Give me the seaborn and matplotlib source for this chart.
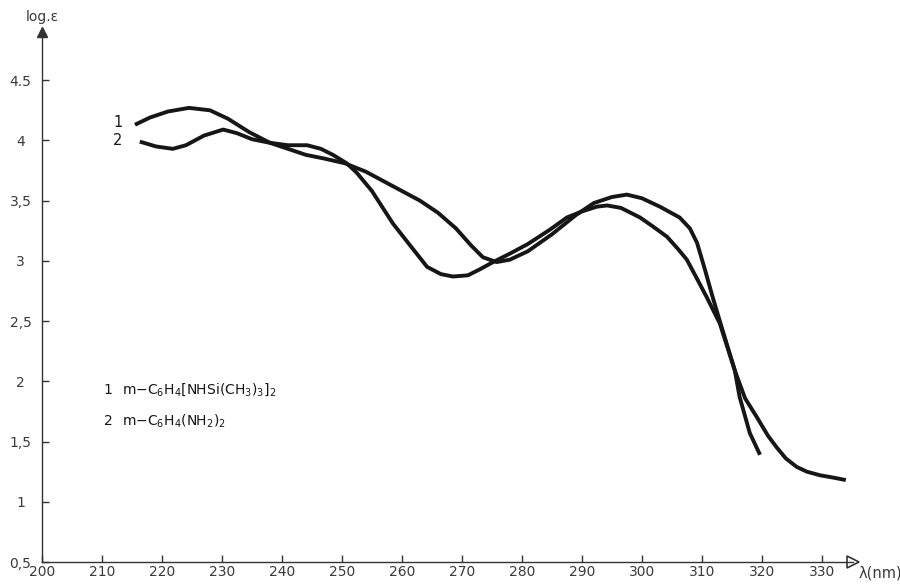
import numpy as np
import pandas as pd
import seaborn as sns
import matplotlib
matplotlib.use("Agg")
import matplotlib.pyplot as plt

# ---- data ----
wl_1 = [215.5, 218, 221, 224.5, 228, 231, 234.5, 238, 241, 244, 247, 250.5,
        254, 257, 260, 263, 266, 269, 271.5, 273.5, 275.8, 278, 281, 285,
        289, 292, 295, 297.5, 300, 303, 306.3, 308, 309.2, 310.5, 311.8,
        313.3, 315.5, 316.3, 318, 319.7]
loge_1 = [4.13, 4.19, 4.24, 4.27, 4.25, 4.18, 4.07, 3.98, 3.93, 3.88, 3.85, 3.81,
          3.74, 3.66, 3.58, 3.50, 3.40, 3.27, 3.13, 3.03, 2.99, 3.01, 3.08, 3.22,
          3.38, 3.48, 3.53, 3.55, 3.52, 3.45, 3.36, 3.27, 3.15, 2.93, 2.70,
          2.45, 2.09, 1.87, 1.57, 1.39]

wl_2 = [216.3, 219, 221.8, 224, 227, 230.2, 232.5, 235, 238, 241, 244.2, 246.5,
        248.5, 250.8, 252.5, 255, 258.5, 261.5, 264.2, 266.5, 268.5, 271, 273,
        275.2, 278, 281, 284.7, 287.5, 290, 292.5, 294.2, 296.5, 299.7, 302,
        304.2, 306, 307.5, 309, 310.8, 313, 315.5, 317.2, 319.2, 321, 322.5,
        324, 325.8, 327.5, 329.7, 332, 334]
loge_2 = [3.99, 3.95, 3.93, 3.96, 4.04, 4.09, 4.06, 4.01, 3.98, 3.96, 3.96, 3.93,
          3.88, 3.81, 3.73, 3.58, 3.31, 3.12, 2.95, 2.89, 2.87, 2.88, 2.93,
          2.99, 3.06, 3.14, 3.26, 3.36, 3.41, 3.45, 3.46, 3.44, 3.36, 3.28,
          3.20, 3.10, 3.01, 2.87, 2.70, 2.48, 2.09, 1.86, 1.70, 1.55, 1.45,
          1.36, 1.29, 1.25, 1.22, 1.20, 1.18]

curve_ids = ["1", "2"]
compound_labels = [r"m$-$C$_6$H$_4$[NHSi(CH$_3$)$_3$]$_2$",
                   r"m$-$C$_6$H$_4$(NH$_2$)$_2$"]

x_ticks = [200, 210, 220, 230, 240, 250, 260, 270, 280, 290, 300, 310, 320, 330]
x_tick_labels = [str(v) for v in x_ticks]
y_ticks = [0.5, 1, 1.5, 2, 2.5, 3, 3.5, 4, 4.5]
y_tick_labels = ["0,5", "1", "1,5", "2", "2,5", "3", "3,5", "4", "4.5"]

x_label = "λ(nm)"
y_label = "log.ε"

# ---- build long table ----
df = pd.concat([
    pd.DataFrame({"wl": wl_1, "loge": loge_1, "curve": curve_ids[0]}),
    pd.DataFrame({"wl": wl_2, "loge": loge_2, "curve": curve_ids[1]}),
], ignore_index=True)

sns.set_theme(style="white")
plt.rcParams["font.family"] = ["DejaVu Sans"]
plt.rcParams["mathtext.default"] = "regular"

ink = "#161616"
txt = "#3a3a3a"
fig = plt.figure(figsize=(9, 5.88), dpi=100)
ax = fig.add_axes([42 / 900, 26 / 588, 811 / 900, 530 / 588])

sns.lineplot(data=df, x="wl", y="loge", hue="curve", sort=False,
             estimator=None, palette={"1": ink, "2": ink}, linewidth=2.8,
             legend=False, ax=ax)
for ln in ax.get_lines():
    ln.set_solid_capstyle("butt")
    ln.set_solid_joinstyle("round")

ax.set_xlim(200, 335.2)
ax.set_ylim(0.5, 4.9)
ax.set_xlabel("")
ax.set_ylabel("")

for s in ["top", "right"]:
    ax.spines[s].set_visible(False)
for s in ["left", "bottom"]:
    ax.spines[s].set_color("#333333")
    ax.spines[s].set_linewidth(1.0)

ax.set_xticks(x_ticks)
ax.set_xticklabels(x_tick_labels, fontsize=10, color=txt)
ax.set_yticks(y_ticks)
ax.set_yticklabels(y_tick_labels, fontsize=10, color=txt)
ax.tick_params(axis="x", direction="in", length=5, width=1, color="#333333",
               pad=2, bottom=True)
ax.tick_params(axis="y", direction="in", length=5, width=1, color="#333333",
               pad=15.5, left=True)
for t in ax.get_yticklabels():
    t.set_horizontalalignment("center")

# axis arrows
ax.plot(1, 0, marker=">", markersize=8, color="#333333", mfc="white", mew=1.2,
        transform=ax.transAxes, clip_on=False)
ax.plot(0, 1, marker="^", markersize=7, color="#333333", mfc="#333333", mew=1.0,
        transform=ax.transAxes, clip_on=False)

fig.text(880 / 900, 1 - 573 / 588, x_label, fontsize=10.5, color=txt,
         ha="center", va="center")
fig.text(42 / 900, 1 - 17 / 588, y_label, fontsize=10, color=txt,
         ha="center", va="center")

# curve numbers at the start of each curve
ax.text(212.6, loge_1[0] + 0.02, curve_ids[0], fontsize=10.5, color=ink,
        ha="center", va="center")
ax.text(212.6, loge_2[0] + 0.01, curve_ids[1], fontsize=10.5, color=ink,
        ha="center", va="center")

# legend text
ax.text(211.0, 1.93, curve_ids[0], fontsize=10, color=ink, ha="center", va="center")
ax.text(213.4, 1.93, compound_labels[0], fontsize=10, color=ink, ha="left", va="center")
ax.text(211.0, 1.67, curve_ids[1], fontsize=10, color=ink, ha="center", va="center")
ax.text(213.4, 1.67, compound_labels[1], fontsize=10, color=ink, ha="left", va="center")

fig.savefig("out.png", dpi=100, facecolor="white")
